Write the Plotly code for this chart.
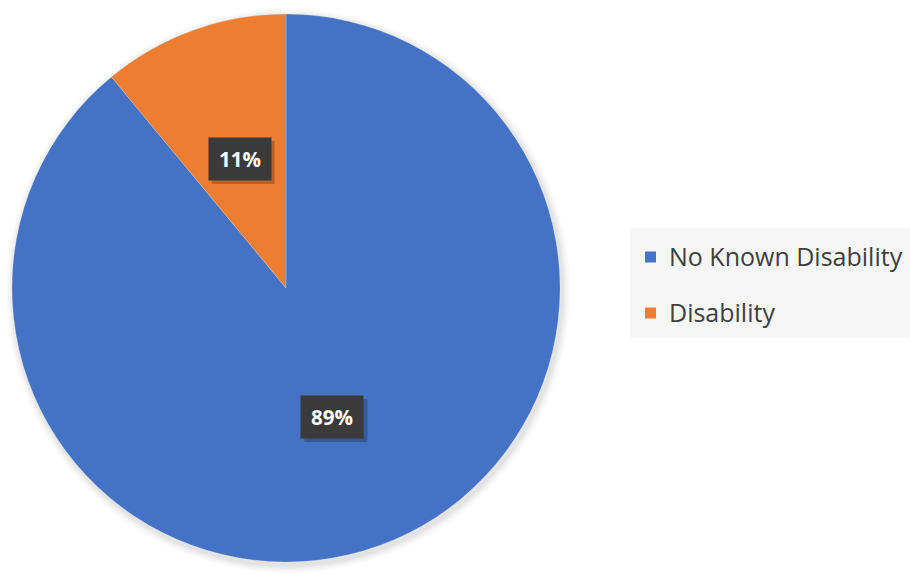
import math
import plotly.graph_objects as go

# Share of people by disability status
categories = ["No Known Disability", "Disability"]
shares = [89, 11]
colors = ["#4472C4", "#ED7D31"]

W, H = 910, 574
# Pie geometry in pixels
cx, cy, r = 286, 288, 274

fig = go.Figure(
    go.Pie(
        labels=categories,
        values=shares,
        sort=False,
        direction="clockwise",
        rotation=0,
        marker=dict(colors=colors, line=dict(color="rgba(255,255,255,0.4)", width=0.5)),
        textinfo="none",
        hoverinfo="label+percent",
        showlegend=False,
        domain=dict(x=[(cx - r) / W, (cx + r) / W], y=[(H - cy - r) / H, (H - cy + r) / H]),
    )
)

# Soft shadow under the pie
for i, a in enumerate([0.035, 0.03, 0.025, 0.02]):
    g = 2 + i * 2
    fig.add_shape(
        type="circle", xref="paper", yref="paper", layer="below",
        x0=(cx - r - g + 2) / W, x1=(cx + r + g + 2) / W,
        y0=(H - cy - r - g - 3) / H, y1=(H - cy + r + g - 3) / H,
        fillcolor=f"rgba(0,0,0,{a})", line=dict(width=0),
    )

# Percentage labels at half radius, mid-angle of each slice
total = sum(shares)
start = 0.0
annotations = []
bw, bh = 62, 42
for val in shares:
    frac = val / total
    mid = (start + frac / 2) * 2 * math.pi
    start += frac
    px = cx + 0.5 * r * math.sin(mid)
    py = cy - 0.5 * r * math.cos(mid)
    # drop shadow behind the label box
    fig.add_shape(type="rect", xref="paper", yref="paper",
                  x0=(px - bw / 2 + 3) / W, x1=(px + bw / 2 + 4) / W,
                  y0=(H - py - bh / 2 - 4) / H, y1=(H - py + bh / 2 - 3) / H,
                  fillcolor="rgba(0,0,0,0.22)", line=dict(width=0))
    annotations.append(dict(
        x=px / W, y=(H - py) / H, xref="paper", yref="paper",
        xanchor="center", yanchor="middle",
        text=f"<b>{round(frac * 100)}%</b>", showarrow=False,
        font=dict(color="white", size=20.5, family="Open Sans"),
        bgcolor="#3a3a3a", width=bw - 16, height=bh - 16, borderpad=8,
    ))

# Legend panel
fig.add_shape(type="rect", xref="paper", yref="paper", layer="below",
              x0=630 / W, x1=1.0, y0=(H - 338) / H, y1=(H - 228) / H,
              fillcolor="#f6f6f6", line=dict(width=0))
legend_rows = [257, 313]
for name, col, ry in zip(categories, colors, legend_rows):
    fig.add_shape(type="rect", xref="paper", yref="paper",
                  x0=645 / W, x1=656 / W, y0=(H - ry - 5.5) / H, y1=(H - ry + 5.5) / H,
                  fillcolor=col, line=dict(width=0))
    annotations.append(dict(
        x=667 / W, y=(H - ry + 1) / H, xref="paper", yref="paper", xanchor="left", yanchor="middle",
        text=name, showarrow=False, font=dict(color="#404040", size=25, family="Open Sans"),
    ))

fig.update_layout(
    width=W, height=H,
    margin=dict(l=0, r=0, t=0, b=0),
    paper_bgcolor="white",
    plot_bgcolor="white",
    annotations=annotations,
)

fig.write_html("out.html")
